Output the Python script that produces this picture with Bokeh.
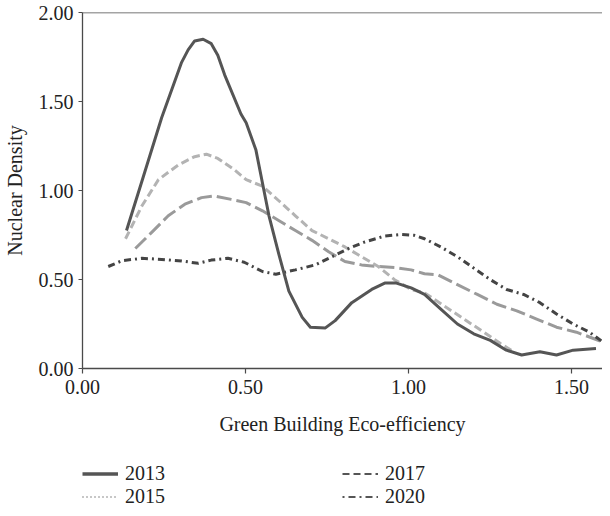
from bokeh.plotting import figure
from bokeh.layouts import column
from bokeh.models import (Range1d, FixedTicker, PrintfTickFormatter, Legend, LegendItem, Span,
                          ColumnDataSource)
from bokeh.embed import file_html
from bokeh.resources import INLINE

# ---- data ----
x_2013 = [0.135, 0.187, 0.243, 0.304, 0.324, 0.344, 0.37, 0.395, 0.415, 0.436, 0.486, 0.502, 0.532, 0.552,
          0.572, 0.603, 0.633, 0.674, 0.699, 0.745, 0.775, 0.826, 0.887, 0.927, 0.963, 1.008, 1.049,
          1.099, 1.15, 1.2, 1.251, 1.30, 1.347, 1.403, 1.454, 1.505, 1.575]
d_2013 = [0.775, 1.08, 1.41, 1.72, 1.79, 1.84, 1.85, 1.825, 1.76, 1.65, 1.43, 1.38, 1.227, 1.042,
          0.858, 0.637, 0.435, 0.287, 0.232, 0.228, 0.269, 0.37, 0.444, 0.48, 0.48, 0.453, 0.416,
          0.333, 0.25, 0.195, 0.158, 0.103, 0.076, 0.094, 0.076, 0.103, 0.112]

x_2015 = [0.132, 0.182, 0.233, 0.294, 0.344, 0.38, 0.415, 0.466, 0.502, 0.552, 0.603, 0.653, 0.704,
          0.755, 0.805, 0.856, 0.907, 0.957, 1.008, 1.049, 1.109, 1.17, 1.231, 1.282, 1.322]
d_2015 = [0.729, 0.913, 1.061, 1.144, 1.19, 1.204, 1.18, 1.116, 1.061, 1.024, 0.941, 0.858, 0.775,
          0.729, 0.683, 0.628, 0.573, 0.499, 0.444, 0.425, 0.352, 0.278, 0.204, 0.14, 0.094]

x_2017 = [0.162, 0.213, 0.263, 0.314, 0.365, 0.405, 0.456, 0.502, 0.552, 0.603, 0.653, 0.704, 0.755,
          0.805, 0.856, 0.907, 0.957, 1.008, 1.049, 1.089, 1.15, 1.211, 1.271, 1.332, 1.393, 1.454,
          1.515, 1.596]
d_2017 = [0.674, 0.766, 0.858, 0.923, 0.96, 0.969, 0.95, 0.932, 0.886, 0.83, 0.775, 0.72, 0.656,
          0.601, 0.582, 0.573, 0.567, 0.554, 0.532, 0.527, 0.471, 0.416, 0.361, 0.324, 0.278, 0.232,
          0.204, 0.149]

x_2020 = [0.079, 0.122, 0.182, 0.243, 0.304, 0.355, 0.395, 0.446, 0.496, 0.552, 0.593, 0.653, 0.714,
          0.765, 0.816, 0.866, 0.927, 0.978, 1.018, 1.049, 1.099, 1.15, 1.2, 1.251, 1.301, 1.353,
          1.403, 1.454, 1.505, 1.555, 1.596]
d_2020 = [0.573, 0.606, 0.619, 0.613, 0.604, 0.591, 0.609, 0.619, 0.597, 0.545, 0.53, 0.554, 0.582,
          0.628, 0.674, 0.711, 0.744, 0.753, 0.748, 0.729, 0.683, 0.628, 0.564, 0.499, 0.444, 0.416,
          0.37, 0.306, 0.25, 0.204, 0.149]

years = ["2013", "2015", "2017", "2020"]
x_ticks = [0.0, 0.5, 1.0, 1.5]
y_ticks = [0.0, 0.5, 1.0, 1.5, 2.0]

FONT = "Liberation Serif"
AX = "#4a4a4a"

p = figure(width=602, height=448, output_backend="svg", toolbar_location=None,
           x_range=Range1d(0, 1.595), y_range=Range1d(0, 2.0),
           min_border_left=0, min_border_right=0, min_border_top=12, min_border_bottom=80)
p.outline_line_color = None
p.xgrid.visible = False
p.ygrid.visible = False

for ax in (p.xaxis[0], p.yaxis[0]):
    ax.axis_line_color = AX
    ax.axis_line_width = 1.3
    ax.major_tick_line_color = AX
    ax.major_tick_line_width = 1.2
    ax.major_tick_in = 0
    ax.minor_tick_line_color = None
    ax.major_label_text_font = FONT
    ax.major_label_text_font_size = "20px"
    ax.major_label_text_color = "#222222"
    ax.axis_label_text_font = FONT
    ax.axis_label_text_font_size = "20px"
    ax.axis_label_text_font_style = "normal"
    ax.axis_label_text_color = "#222222"
    ax.formatter = PrintfTickFormatter(format="%.2f")

p.xaxis[0].ticker = FixedTicker(ticks=x_ticks)
p.yaxis[0].ticker = FixedTicker(ticks=y_ticks)
p.xaxis[0].major_tick_out = 5
p.yaxis[0].major_tick_out = 4
p.xaxis[0].major_label_standoff = 6
p.yaxis[0].major_label_standoff = 5
p.xaxis[0].axis_label = "Green Building Eco-efficiency"
p.yaxis[0].axis_label = "Nuclear Density"
p.xaxis[0].axis_label_standoff = 16
p.yaxis[0].axis_label_standoff = 10

# top border line
p.add_layout(Span(location=2.0, dimension="width", line_color=AX, line_width=1.3))

# curves
p.line(x_2017, d_2017, line_color="#9a9a9a", line_width=3, line_dash="15 5", line_join="round")
p.line(x_2015, d_2015, line_color="#b3b3b3", line_width=3, line_dash="8 4", line_join="round")
p.line(x_2020, d_2020, line_color="#444444", line_width=3, line_dash="7 4 2 4", line_join="round")
p.line(x_2013, d_2013, line_color="#555555", line_width=3, line_join="round")

# ---- legend strip below the chart (its frame is aligned with the chart's frame) ----
q = figure(width=602, height=60, output_backend="svg", toolbar_location=None,
           x_range=Range1d(0, 1), y_range=Range1d(0, 1), x_axis_type=None, y_axis_type=None,
           min_border_left=0, min_border_right=0, min_border_top=0, min_border_bottom=0)
q.outline_line_color = None
q.xgrid.visible = False
q.ygrid.visible = False

nan = float("nan")
blank = ColumnDataSource(data=dict(x=[nan, nan], y=[nan, nan]))
r13 = q.line("x", "y", source=blank, line_color="#555555", line_width=3.5)
r15 = q.line("x", "y", source=blank, line_color="#6a6a6a", line_width=1.5, line_dash="1 3")
r17 = q.line("x", "y", source=blank, line_color="#555555", line_width=2, line_dash="7 4")
r20 = q.line("x", "y", source=blank, line_color="#555555", line_width=2, line_dash="2 4 7 4")

legend = Legend(items=[LegendItem(label=years[0], renderers=[r13]),
                       LegendItem(label=years[1], renderers=[r15]),
                       LegendItem(label=years[2], renderers=[r17]),
                       LegendItem(label=years[3], renderers=[r20])],
                location=(0, 0), ncols=2, orientation="vertical",
                glyph_width=36, glyph_height=23, label_height=23, label_width=217,
                label_standoff=7, spacing=0, padding=1, margin=0,
                border_line_color=None, background_fill_alpha=0,
                label_text_font=FONT, label_text_font_size="20px", label_text_color="#222222")
q.add_layout(legend, "center")

open("out.html", "w").write(file_html(column(p, q, spacing=0), INLINE))
